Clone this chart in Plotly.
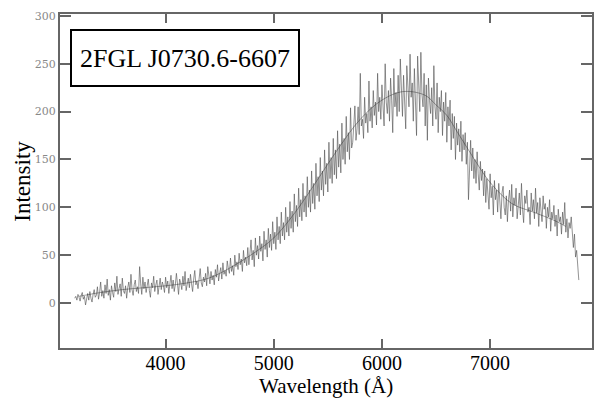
import plotly.graph_objects as go

# Observed spectrum: wavelength grid (Å) in 10 Å steps and intensity values
wave_start = 3160
wave_step = 10
flux = [
    5, 7, 3, 9, 6, 2, 8, 11, 4, 7,
    -2, 6, 10, 3, 12, 5, 1, 9, 14, 6,
    8, 17, 4, 11, 22, 7, 13, 5, 19, 10,
    25, 8, 14, 3, 18, 11, 6, 21, 12, 28,
    9, 15, 20, 7, 26, 13, 10, 18, 5, 16,
    22, 11, 30, 14, 8, 19, 24, 12, 17, 10,
    38, 20, 9, 27, 15, 22, 11, 18, 25, 13,
    6, 21, 16, 28, 12, 19, 24, 9, 17, 26,
    14, 22, 18, 11, 27, 16, 23, 10, 20, 29,
    15, 24, 12, 19, 31, 17, 9, 25, 21, 14,
    28, 18, 33, 13, 22, 26, 16, 30, 20, 12,
    25, 34, 19, 23, 15, 29, 36, 21, 17, 27,
    22, 31, 18, 38, 26, 20, 33, 24, 29, 19,
    35, 27, 40, 23, 31, 37, 25, 42, 30, 34,
    28, 44, 36, 31, 47, 33, 39, 29, 50, 38,
    43, 35, 52, 40, 46, 33, 55, 42, 48, 39,
    58, 40, 52, 66, 45, 55, 38, 68, 50, 60,
    46, 70, 54, 62, 44, 75, 56, 66, 48, 78,
    58, 72, 55, 85, 62, 74, 56, 90, 66, 80,
    62, 95, 70, 84, 66, 100, 74, 90, 70, 106,
    78, 96, 74, 114, 85, 102, 80, 120, 90, 108,
    86, 125, 95, 112, 90, 132, 100, 118, 95, 138,
    104, 125, 98, 146, 112, 132, 106, 152, 118, 138,
    112, 160, 124, 146, 116, 168, 130, 152, 125, 172,
    134, 160, 130, 180, 142, 166, 136, 188, 150, 172,
    145, 195, 158, 178, 150, 204, 162, 168, 186, 206,
    170, 182, 205, 176, 240, 185, 192, 172, 215, 188,
    198, 178, 232, 190, 205, 183, 222, 196, 210, 186,
    240, 200, 215, 192, 228, 205, 185, 250, 210, 198,
    222, 190, 235, 212, 178, 245, 205, 220, 195, 238,
    200, 255, 215, 195, 238, 210, 182, 248, 222, 205,
    260, 215, 230, 190, 245, 210, 175, 258, 225, 200,
    262, 218, 205, 240, 185, 228, 170, 235, 212, 198,
    225, 185, 248, 205, 192, 230, 178, 215, 200, 222,
    175, 210, 190, 220, 168, 205, 185, 212, 160, 198,
    172, 195, 150, 188, 165, 182, 158, 190, 148, 176,
    160, 178, 145, 168, 108, 155, 170, 138, 162, 130,
    150, 125, 158, 135, 118, 148, 128, 140, 112, 138,
    105, 130, 118, 98, 135, 110, 122, 92, 128, 108,
    118, 95, 125, 104, 88, 115, 122, 100, 92, 112,
    85, 108, 118, 96, 124, 90, 110, 102, 120, 88,
    106, 115, 92, 125, 98, 84, 112, 104, 118, 95,
    100, 82, 115, 96, 108, 88, 120, 94, 105, 80,
    110, 92, 85, 112, 98, 104, 78, 100, 90, 108,
    75, 95, 88, 102, 80, 92, 70, 98, 85, 90,
    72, 95, 82, 105, 74, 88, 68, 84, 78, 90,
    70, 58, 72, 48, 55, 38, 24,
]
wavelength = [wave_start + wave_step * i for i in range(len(flux))]

# Smooth model curve
model_wave = [3200, 3400, 3600, 3800, 4000, 4200, 4400, 4600, 4800, 5000,
              5200, 5400, 5600, 5800, 6000, 6200, 6400, 6500, 6600, 6700,
              6800, 6900, 7000, 7200, 7400, 7600, 7700]
model_flux = [7, 11, 14, 16, 18, 21, 26, 37, 51, 68,
              95, 128, 162, 192, 212, 221, 217, 207, 196, 178,
              160, 142, 126, 104, 95, 86, 80]

x_ticks = [4000, 5000, 6000, 7000]
y_ticks = [0, 50, 100, 150, 200, 250, 300]
label = "2FGL J0730.6-6607"
x_title = "Wavelength (Å)"
y_title = "Intensity"

fig = go.Figure()
fig.add_trace(go.Scatter(x=wavelength, y=flux, mode="lines",
                         line=dict(color="rgba(85,85,85,0.8)", width=0.8),
                         showlegend=False))
fig.add_trace(go.Scatter(x=model_wave, y=model_flux, mode="lines",
                         line=dict(color="rgba(40,40,40,0.55)", width=0.8, shape="spline"),
                         showlegend=False))

serif = "Liberation Serif"
fig.update_layout(
    width=595, height=398,
    margin=dict(l=60, r=1, t=14, b=50),
    paper_bgcolor="white", plot_bgcolor="white",
    font=dict(family=serif, color="black"),
    annotations=[
        dict(text=label, xref="paper", yref="paper", x=0.0187, y=0.955,
             xanchor="left", yanchor="top", showarrow=False,
             font=dict(family=serif, size=26, color="black"),
             bordercolor="black", borderwidth=2, borderpad=1,
             width=224, height=52, bgcolor="white"),
        dict(text=x_title, xref="paper", yref="paper", x=0.5, y=-0.1135,
             xanchor="center", yanchor="middle", showarrow=False,
             font=dict(family=serif, size=21, color="black")),
        dict(text=y_title, xref="paper", yref="paper", x=-0.072, y=0.5,
             xanchor="center", yanchor="middle", showarrow=False, textangle=-90,
             font=dict(family=serif, size=23, color="black")),
    ],
)
fig.update_xaxes(
    range=[3024, 7942], tickvals=x_ticks, ticktext=[str(v) for v in x_ticks],
    ticks="inside", ticklen=9, tickwidth=1.5, tickcolor="#666",
    showline=True, linecolor="#666", linewidth=2, mirror="ticks",
    showgrid=False, zeroline=False, ticklabelstandoff=-4,
    tickfont=dict(family=serif, size=20, color="black"),
)
fig.update_yaxes(
    range=[-47, 302], tickvals=y_ticks, ticktext=[str(v) for v in y_ticks],
    ticks="inside", ticklen=11, tickwidth=1.5, tickcolor="#666",
    showline=True, linecolor="#666", linewidth=2, mirror="ticks",
    showgrid=False, zeroline=False,
    tickfont=dict(family="DejaVu Serif", size=11, color="#888"),
)

fig.write_html("out.html")
